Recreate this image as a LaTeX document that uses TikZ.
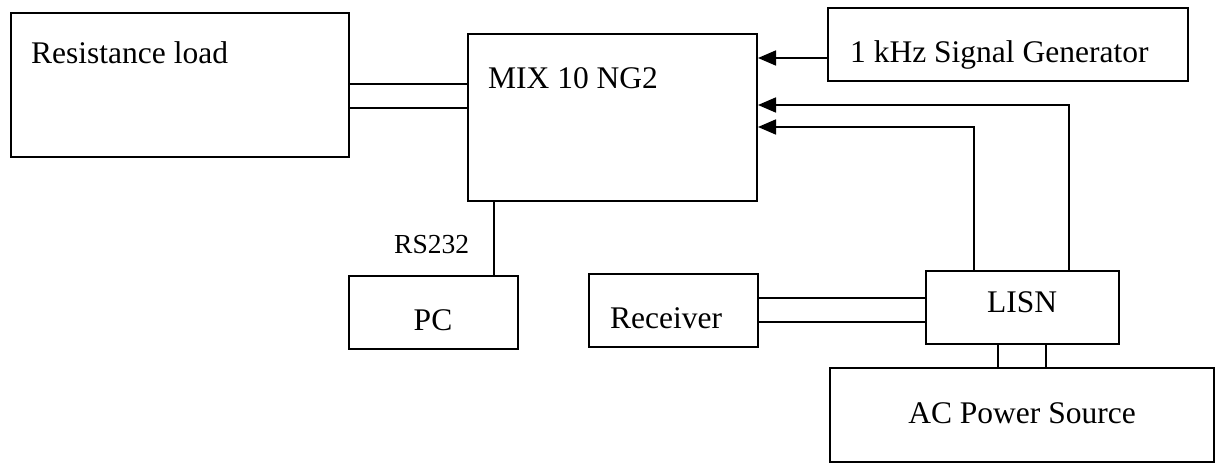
\documentclass[tikz,border=0pt]{standalone}
\usepackage{fontspec}
\setmainfont{Liberation Serif}
\usetikzlibrary{arrows.meta}
\begin{document}
\begin{tikzpicture}[x=1pt,y=-1pt,
  box/.style={draw, line width=2pt, inner sep=0pt, anchor=north west},
  lbl/.style={inner sep=0pt, font=\fontsize{31.5}{36}\selectfont},
  wire/.style={line width=1.8pt},
  arr/.style={wire, -{Triangle[length=18pt,width=15pt]}}]
\useasboundingbox (0,0) rectangle (1216,463);
% boxes
\node[box, minimum width=338pt, minimum height=144pt] (rl) at (10,12) {};
\node[box, minimum width=289pt, minimum height=167pt] (mix) at (467,33) {};
\node[box, minimum width=360pt, minimum height=73pt] (sg) at (827,7) {};
\node[box, minimum width=169pt, minimum height=73pt] (pc) at (348,275) {};
\node[box, minimum width=169pt, minimum height=73pt] (rx) at (588,273) {};
\node[box, minimum width=193pt, minimum height=73pt] (lisn) at (925,270) {};
\node[box, minimum width=384pt, minimum height=94pt] (ac) at (829,367) {};
% texts
\node[lbl, anchor=base west] (trl) at (31,63) {Resistance load};
\node[lbl, anchor=base west] (tmix) at (488,88) {MIX 10 NG2};
\node[lbl, anchor=base west] (tsg) at (850,62) {1 kHz Signal Generator};
\node[lbl, anchor=base west, font=\fontsize{27.5}{32}\selectfont] (trs) at (394,253) {RS232};
\node[lbl, anchor=base] (tpc) at (433,330) {PC};
\node[lbl, anchor=base west] (trx) at (610,328) {Receiver};
\node[lbl, anchor=base west] (tlisn) at (987,312) {LISN};
\node[lbl, anchor=base] (tac) at (1022,423) {AC Power Source};
% connectors
\draw[wire] ([yshift=1pt]rl.east) -- ([yshift=1pt]rl.east -| mix.west);
\draw[wire] ([yshift=-23pt]rl.east) -- ([yshift=-23pt]rl.east -| mix.west);
\draw[arr] ([yshift=-13.5pt]sg.west) -- ([yshift=-13.5pt]sg.west -| mix.east);
\draw[arr] ([xshift=46.5pt]lisn.north) |- ([yshift=12.5pt]mix.east);
\draw[arr] ([xshift=-48.5pt]lisn.north) |- ([yshift=-9.5pt]mix.east);
\draw[wire] ([xshift=-118.5pt]mix.south) -- ([xshift=-118.5pt]mix.south |- pc.north);
\draw[wire] ([yshift=12.5pt]rx.east) -- ([yshift=12.5pt]rx.east -| lisn.west);
\draw[wire] ([yshift=-11.5pt]rx.east) -- ([yshift=-11.5pt]rx.east -| lisn.west);
\draw[wire] ([xshift=-24.5pt]lisn.south) -- ([xshift=-24.5pt]lisn.south |- ac.north);
\draw[wire] ([xshift=23.5pt]lisn.south) -- ([xshift=23.5pt]lisn.south |- ac.north);
\end{tikzpicture}
\end{document}
